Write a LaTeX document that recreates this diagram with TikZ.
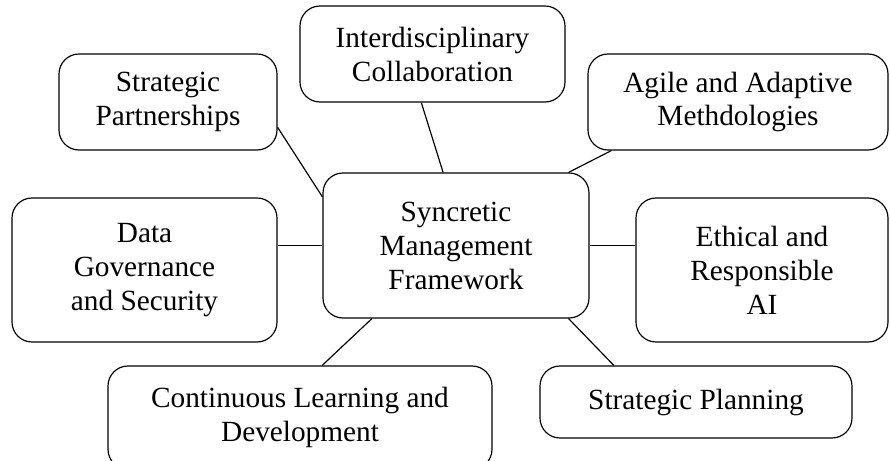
\documentclass[tikz,border=0pt]{standalone}
\usepackage{fontspec}
\setmainfont{Liberation Serif}
\usepackage{tikz}

\begin{document}
\begin{tikzpicture}[
      box/.style={rectangle, draw=black, line width=1pt, rounded corners=0.6cm,
        align=center, inner sep=0pt, font=\fontsize{25}{29}\selectfont},
      link/.style={draw=black, line width=1pt}
    ]
      \useasboundingbox (0,0) rectangle (26.7,-13.83);
      % hub
      \node[box, minimum width=7.98cm, minimum height=4.35cm] (smf) at (13.68,-7.365)
        {Syncretic\\Management\\Framework};
      % satellites
      \node[box, minimum width=7.95cm, minimum height=2.88cm] (inter) at (12.975,-1.62)
        {Interdisciplinary\\Collaboration};
      \node[box, minimum width=6.54cm, minimum height=2.88cm] (spart) at (5.04,-3.06)
        {Strategic\\Partnerships};
      \node[box, minimum width=9.0cm, minimum height=2.88cm] (agile) at (22.14,-3.06)
        {Agile and Adaptive\\Methdologies};
      \node[box, minimum width=7.95cm, minimum height=4.32cm] (data) at (4.335,-8.1)
        {Data\\Governance\\and Security};
      \node[box, minimum width=7.56cm, minimum height=4.32cm] (ethic) at (22.86,-8.1)
        {Ethical and\\Responsible\\AI};
      \node[box, minimum width=11.52cm, minimum height=3.1cm] (learn) at (9.0,-12.53)
        {Continuous Learning and\\Development};
      \node[box, minimum width=9.36cm, minimum height=2.16cm] (splan) at (20.88,-12.06)
        {Strategic Planning};
      % spokes
      \draw[link] (spart.-13.4) -- (smf.160);
      \draw[link] (inter.-103.5) -- (smf.100);
      \draw[link] (agile.-159) -- (smf.33.6);
      \draw[link] (data.east |- smf.west) -- (smf.west);
      \draw[link] (ethic.west |- smf.east) -- (smf.east);
      \draw[link] (learn.67) -- (smf.-139);
      \draw[link] (splan.156.8) -- (smf.-33.6);
    \end{tikzpicture}
\end{document}
